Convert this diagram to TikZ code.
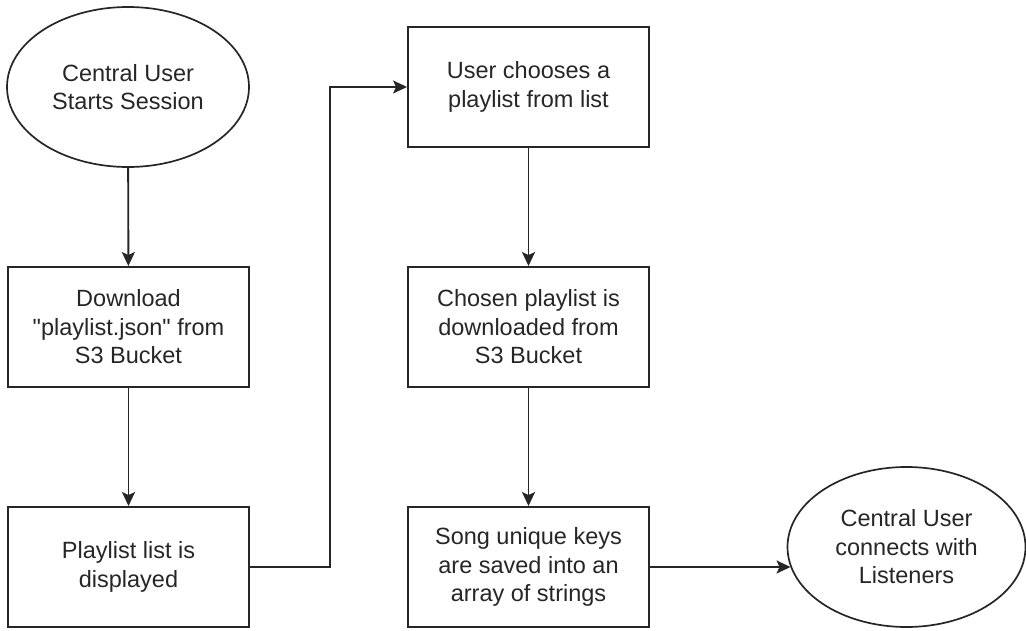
\documentclass[tikz,border=0pt]{standalone}
\usepackage{fontspec}
\setmainfont{Liberation Sans}
\usetikzlibrary{shapes.geometric,arrows.meta}
% straight double quote, bypassing the TeX ligature mapping
\newcommand{\sqq}{\XeTeXglyph\XeTeXcharglyph"22\relax}

\begin{document}
\begin{tikzpicture}[x=1pt,y=-1pt,
  every node/.style={font=\fontsize{23.5}{28.5}\selectfont, text=black!85, align=center, inner sep=0pt},
  stepbox/.style={draw=black!85, line width=1.9pt, fill=white, minimum width=241pt, minimum height=120pt},
  terminal/.style={ellipse, draw=black!85, line width=1.7pt, fill=white, minimum width=242pt, minimum height=160pt},
  flow/.style={draw=black!85, line width=1.9pt, -{Stealth[length=14pt,width=13pt,inset=3pt]}}
]
\useasboundingbox (0,0) rectangle (1026,631);

% left column
\node[terminal] (start) at (128,87) {Central User\\Starts Session};
\node[stepbox] (download) at (128.5,327) {Download\\\sqq playlist.json\sqq{} from\\S3 Bucket};
\node[stepbox] (display) at (128.5,567) {Playlist list is\\displayed};

% middle column
\node[stepbox] (choose) at (528.5,87) {User chooses a\\playlist from list};
\node[stepbox] (fetch) at (528.5,327) {Chosen playlist is\\downloaded from\\S3 Bucket};
\node[stepbox] (keys) at (528.5,567) {Song unique keys\\are saved into an\\array of strings};

% end point
\node[terminal, minimum width=238pt] (connect) at (906.5,547) {Central User\\connects with\\Listeners};

% connectors
\coordinate (bend) at (330,567);
\draw[flow] (start) -- (download);
\draw[flow] (download) -- (display);
\draw[flow] (display.east) -- (bend) |- (choose.west);
\draw[flow] (choose) -- (fetch);
\draw[flow] (fetch) -- (keys);
\draw[flow] (keys.east) -- (keys.east -| connect.190);
\end{tikzpicture}
\end{document}
